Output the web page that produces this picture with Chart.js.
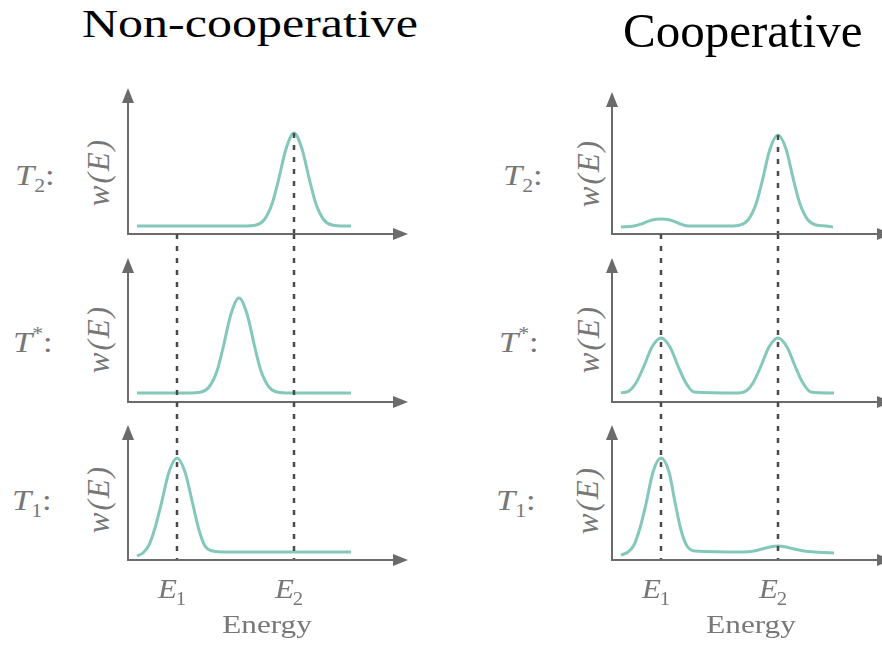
<!DOCTYPE html>
<html>
<head>
<meta charset="utf-8">
<script src="https://cdn.jsdelivr.net/npm/chart.js@4/dist/chart.umd.min.js"></script>
<style>
  html, body { margin: 0; padding: 0; background: #fff; }
  body { width: 882px; height: 645px; position: relative; overflow: hidden;
         font-family: "Liberation Serif", "Times New Roman", serif; }
  canvas { position: absolute; }
  .title { position: absolute; line-height: 1; color: #000; white-space: nowrap; transform-origin: 0 0; }
  .tlab { position: absolute; font-size: 30px; line-height: 1; color: #777; white-space: nowrap;
          transform: scaleX(1.15); transform-origin: 0 0; }
  .tlab .s { position: relative; top: 7px; font-size: 19px; font-style: normal; }
  .tlab .p { position: relative; top: -12px; font-size: 19px; font-style: normal; }
  .wlab { position: absolute; font-size: 31px; font-style: italic; color: #777; line-height: 1;
          white-space: nowrap; letter-spacing: 2px; transform: translate(-50%, -50%) rotate(-90deg); }
</style>
</head>
<body>
<div class="title" style="left:82px;top:4px;font-size:40px;transform:scaleX(1.25)">Non-cooperative</div>
<div class="title" style="left:623px;top:6px;font-size:49px">Cooperative</div>

<div class="tlab" style="left:15px;top:160px"><i>T</i><span class="s">2</span>:</div>
<div class="tlab" style="left:13px;top:327px"><i>T</i><span class="p">*</span>:</div>
<div class="tlab" style="left:12px;top:485px"><i>T</i><span class="s">1</span>:</div>
<div class="tlab" style="left:503px;top:160px"><i>T</i><span class="s">2</span>:</div>
<div class="tlab" style="left:499px;top:327px"><i>T</i><span class="p">*</span>:</div>
<div class="tlab" style="left:496px;top:485px"><i>T</i><span class="s">1</span>:</div>

<div class="wlab" style="left:98px;top:172px">w(E)</div>
<div class="wlab" style="left:98px;top:339px">w(E)</div>
<div class="wlab" style="left:98px;top:499px">w(E)</div>
<div class="wlab" style="left:588px;top:173px">w(E)</div>
<div class="wlab" style="left:588px;top:339px">w(E)</div>
<div class="wlab" style="left:587px;top:500px">w(E)</div>

<script>
// energy axis ticks
const energyTicks = [49, 166];
const tickSubs = ['1', '2'];
const energyLabel = 'Energy';

// Non-cooperative, T2
const ncT2E = [9, 115, 128, 136, 144, 150, 158, 166, 174, 182, 188, 196, 204, 216, 223];
const ncT2W = [0.08, 0.08, 0.09, 0.14, 0.30, 0.52, 0.85, 1.01, 0.85, 0.52, 0.30, 0.14, 0.09, 0.08, 0.08];
// Non-cooperative, T*
const ncTsE = [9, 60, 73, 81, 89, 95, 103, 111, 119, 127, 133, 141, 149, 162, 223];
const ncTsW = [0.09, 0.09, 0.10, 0.15, 0.31, 0.54, 0.88, 1.04, 0.88, 0.54, 0.31, 0.15, 0.10, 0.09, 0.09];
// Non-cooperative, T1
const ncT1E = [9, 15, 21, 27, 33, 41, 49, 57, 65, 71, 77, 85, 97, 223];
const ncT1W = [0.04, 0.07, 0.15, 0.32, 0.55, 0.88, 1.02, 0.88, 0.55, 0.30, 0.14, 0.09, 0.08, 0.08];

// Cooperative, T2
const cT2E = [9, 22, 32, 40, 49, 58, 66, 76, 118, 128, 136, 144, 150, 158, 166, 174, 182, 188, 196, 204, 214, 221];
const cT2W = [0.07, 0.08, 0.11, 0.14, 0.15, 0.14, 0.11, 0.08, 0.08, 0.09, 0.14, 0.30, 0.52, 0.85, 0.99, 0.85, 0.52, 0.30, 0.14, 0.09, 0.08, 0.07];
// Cooperative, T*
const cTsE = [9, 17, 24, 32, 40, 49, 58, 66, 74, 82, 126, 134, 141, 149, 157, 166, 175, 183, 191, 199, 222];
const cTsW = [0.09, 0.11, 0.19, 0.36, 0.55, 0.64, 0.55, 0.36, 0.19, 0.10, 0.09, 0.11, 0.19, 0.36, 0.55, 0.64, 0.55, 0.36, 0.19, 0.10, 0.09];
// Cooperative, T1
const cT1E = [9, 16, 22, 28, 34, 41, 49, 57, 63, 69, 75, 83, 132, 142, 150, 158, 166, 174, 182, 192, 222];
const cT1W = [0.05, 0.08, 0.15, 0.32, 0.56, 0.88, 1.02, 0.88, 0.58, 0.30, 0.14, 0.09, 0.08, 0.09, 0.11, 0.13, 0.14, 0.13, 0.11, 0.09, 0.07];

const curveColor = '#84c8ba';
const axisColor = '#6b6b6b';
const textColor = '#777';

// axes with arrowheads, dashed guides at E1/E2, tick labels
const axesPlugin = {
  id: 'panelAxes',
  afterDatasetsDraw(chart, args, o) {
    const { ctx, chartArea, scales: { x, y } } = chart;
    const x0 = x.getPixelForValue(0);
    const y0 = y.getPixelForValue(0);
    const xEnd = x.getPixelForValue(x.max);
    const yTop = y.getPixelForValue(o.arrowTop);
    ctx.save();

    ctx.strokeStyle = '#4a4a4a';
    ctx.lineWidth = 2.5;
    ctx.setLineDash([5, 7]);
    o.dashFrom.forEach((from, i) => {
      if (from === null) return;
      const px = x.getPixelForValue(energyTicks[i]);
      const top = from === 'top' ? chartArea.top : y.getPixelForValue(from);
      ctx.beginPath();
      ctx.moveTo(px, top);
      ctx.lineTo(px, y0);
      ctx.stroke();
    });
    ctx.setLineDash([]);

    ctx.strokeStyle = axisColor;
    ctx.fillStyle = axisColor;
    ctx.lineWidth = 2;
    ctx.beginPath();
    ctx.moveTo(x0, y0 + 1);
    ctx.lineTo(x0, yTop + 10);
    ctx.moveTo(x0 - 1, y0);
    ctx.lineTo(xEnd - 10, y0);
    ctx.stroke();
    ctx.beginPath();
    ctx.moveTo(x0, yTop);
    ctx.lineTo(x0 - 6, yTop + 15);
    ctx.lineTo(x0 + 6, yTop + 15);
    ctx.closePath();
    ctx.fill();
    ctx.beginPath();
    ctx.moveTo(xEnd, y0);
    ctx.lineTo(xEnd - 15, y0 - 6);
    ctx.lineTo(xEnd - 15, y0 + 6);
    ctx.closePath();
    ctx.fill();

    if (o.labels) {
      ctx.fillStyle = textColor;
      energyTicks.forEach((t, i) => {
        const px = x.getPixelForValue(t);
        ctx.save();
        ctx.translate(px, y0 + 38);
        ctx.scale(1.15, 1);
        ctx.font = 'italic 27px "Liberation Serif"';
        ctx.textAlign = 'right';
        ctx.fillText('E', 0, 0);
        ctx.font = '18px "Liberation Serif"';
        ctx.textAlign = 'left';
        ctx.fillText(tickSubs[i], -1, 7);
        ctx.restore();
      });
      ctx.save();
      ctx.translate(x.getPixelForValue(139), y0 + 73);
      ctx.scale(1.2, 1);
      ctx.font = '26px "Liberation Serif"';
      ctx.textAlign = 'center';
      ctx.fillText(energyLabel, 0, 0);
      ctx.restore();
    }
    ctx.restore();
  }
};

const panels = [
  { E: ncT2E, W: ncT2W, left: 118, top: 76,  h: 158, pb: 6,  ymax: 1.58, arrow: 1.46, dash: [null, 1.01], labels: false },
  { E: ncTsE, W: ncTsW, left: 118, top: 234, h: 168, pb: 6,  ymax: 1.68, arrow: 1.44, dash: ['top', 'top'], labels: false },
  { E: ncT1E, W: ncT1W, left: 118, top: 402, h: 158, pb: 85, ymax: 1.58, arrow: 1.35, dash: ['top', 'top'], labels: true },
  { E: cT2E,  W: cT2W,  left: 602, top: 76,  h: 158, pb: 6,  ymax: 1.58, arrow: 1.42, dash: [null, 0.99], labels: false },
  { E: cTsE,  W: cTsW,  left: 602, top: 234, h: 168, pb: 6,  ymax: 1.68, arrow: 1.44, dash: ['top', 'top'], labels: false },
  { E: cT1E,  W: cT1W,  left: 602, top: 402, h: 158, pb: 85, ymax: 1.58, arrow: 1.35, dash: ['top', 'top'], labels: true }
];

panels.forEach(p => {
  const cv = document.createElement('canvas');
  cv.width = 300;
  cv.height = p.h + p.pb;
  cv.style.left = p.left + 'px';
  cv.style.top = p.top + 'px';
  cv.style.width = '300px';
  cv.style.height = (p.h + p.pb) + 'px';
  document.body.appendChild(cv);

  new Chart(cv.getContext('2d'), {
    type: 'line',
    data: {
      datasets: [{
        data: p.E.map((e, i) => ({ x: e, y: p.W[i] })),
        borderColor: curveColor,
        borderWidth: 3,
        pointRadius: 0,
        cubicInterpolationMode: 'monotone',
        fill: false
      }]
    },
    options: {
      responsive: false,
      animation: false,
      events: [],
      layout: { padding: { left: 10, right: 10, top: 0, bottom: p.pb } },
      plugins: {
        legend: { display: false },
        tooltip: { enabled: false },
        panelAxes: { arrowTop: p.arrow, dashFrom: p.dash, labels: p.labels }
      },
      scales: {
        x: { type: 'linear', min: 0, max: 280, display: false },
        y: { min: 0, max: p.ymax, display: false }
      }
    },
    plugins: [axesPlugin]
  });
});
</script>
</body>
</html>
